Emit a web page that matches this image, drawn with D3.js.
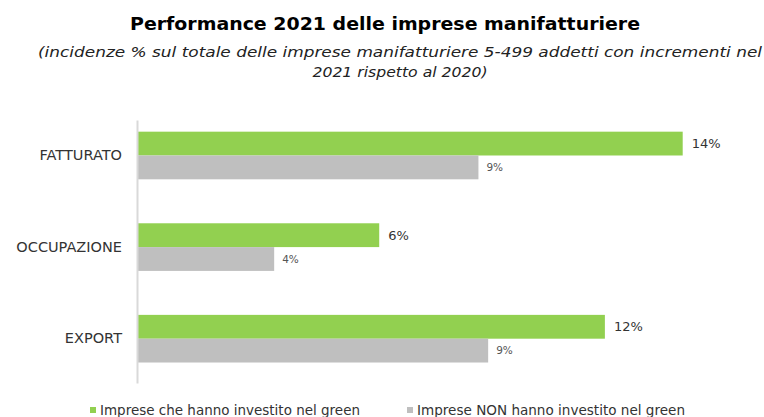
<!DOCTYPE html>
<html><head><meta charset="utf-8">
<script src="https://cdn.jsdelivr.net/npm/d3@7"></script>
<style>body{margin:0;background:#fff}svg{display:block}</style>
</head><body>
<svg id="c" width="764" height="417"></svg>
<script>
const categories = ["FATTURATO", "OCCUPAZIONE", "EXPORT"];
const seriesNames = ["Imprese che hanno investito nel green", "Imprese NON hanno investito nel green"];
const green = [14.0, 6.2, 12.0];
const nonGreen = [8.75, 3.5, 9.0];
const colors = ["#92d050", "#bfbfbf"];

(function(){
const svg = d3.select("#c");
const font = "DejaVu Sans, sans-serif";
const axisX = 137, barX = 138;

const y = d3.scaleBand().domain(categories).range([120, 383])
  .paddingInner(0.48).paddingOuter(0.1756).align(0.363);
const sub = d3.scaleBand().domain([0,1]).range([0, y.bandwidth()]);
const x = d3.scaleLinear().domain([0, 14]).range([barX, 682.7]);

svg.append("text").attr("x", 385).attr("y", 30).attr("text-anchor", "middle")
  .attr("font-family", font).attr("font-weight", "bold").attr("font-size", 18)
  .attr("textLength", 510).attr("lengthAdjust", "spacingAndGlyphs")
  .text("Performance 2021 delle imprese manifatturiere");
svg.append("text").attr("x", 400).attr("y", 57).attr("text-anchor", "middle")
  .attr("font-family", font).attr("font-style", "italic").attr("font-size", 14).attr("fill", "#222")
  .attr("textLength", 724).attr("lengthAdjust", "spacingAndGlyphs")
  .text("(incidenze % sul totale delle imprese manifatturiere 5-499 addetti con incrementi nel");
svg.append("text").attr("x", 400).attr("y", 77).attr("text-anchor", "middle")
  .attr("font-family", font).attr("font-style", "italic").attr("font-size", 14).attr("fill", "#222")
  .attr("textLength", 175).attr("lengthAdjust", "spacingAndGlyphs")
  .text("2021 rispetto al 2020)");

const series = [green, nonGreen];
series.forEach((vals, si) => {
  const g = svg.append("g");
  g.selectAll("rect").data(categories).enter().append("rect")
    .attr("x", x(0)).attr("y", c => y(c) + sub(si))
    .attr("width", (c, i) => x(vals[i]) - x(0)).attr("height", sub.bandwidth())
    .attr("fill", colors[si]);
  g.selectAll("text").data(categories).enter().append("text")
    .attr("x", (c, i) => x(vals[i]) + (si === 0 ? 9 : 8))
    .attr("y", c => y(c) + sub(si) + sub.bandwidth() / 2)
    .attr("dy", "0.35em")
    .attr("font-family", font).attr("font-size", si === 0 ? 13 : 10.5)
    .attr("fill", si === 0 ? "#333" : "#555")
    .text((c, i) => d3.format(".0f")(vals[i]) + "%");
});

const ax = svg.append("g").attr("transform", `translate(${axisX},0)`)
  .call(d3.axisLeft(y).tickSize(0).tickPadding(15));
ax.select(".domain").attr("stroke", "#d9d9d9").attr("stroke-width", 2);
ax.selectAll("text").attr("font-family", font).attr("font-size", 14.5).attr("fill", "#333");

const legendX = [90, 407], legendW = [260, 268];
seriesNames.forEach((n, i) => {
  svg.append("rect").attr("x", legendX[i]).attr("y", 407).attr("width", 6).attr("height", 6).attr("fill", colors[i]);
  svg.append("text").attr("x", legendX[i] + 10).attr("y", 410).attr("dy", "0.35em")
    .attr("font-family", font).attr("font-size", 13.5).attr("fill", "#333")
    .attr("textLength", legendW[i]).attr("lengthAdjust", "spacingAndGlyphs").text(n);
});
})();
</script>
</body></html>
